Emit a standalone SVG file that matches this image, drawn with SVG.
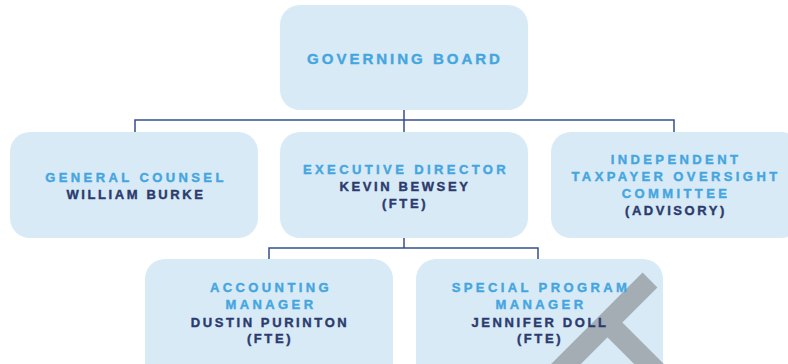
<svg xmlns="http://www.w3.org/2000/svg" width="788" height="364" viewBox="0 0 788 364">
<style>
.box{fill:#d9eaf7;}
.t{font-family:"Liberation Sans",Arial,sans-serif;font-weight:bold;font-size:13px;fill:#44a6df;stroke:#44a6df;stroke-width:0.4;letter-spacing:3.4px;text-anchor:middle;}
.n{font-family:"Liberation Sans",Arial,sans-serif;font-weight:bold;font-size:13px;fill:#2b3b6e;stroke:#2b3b6e;stroke-width:0.4;letter-spacing:2.6px;text-anchor:middle;}
.c{fill:none;stroke:#34508d;stroke-width:1.5;}
.x{stroke:#a4adb3;stroke-width:21;stroke-linecap:butt;}
</style>
<rect width="788" height="364" fill="#ffffff"/>
<g id="connectors">
<path class="c" d="M404 110 V132 M135 132 V120 H674 V132"/>
<path class="c" d="M404 238 V248 M269 259 V248 H538 V259"/>
</g>
<g id="governing-board">
<rect class="box" x="280" y="5" width="248" height="105" rx="20"/>
<text class="t" x="405" y="64" style="font-size:15px;letter-spacing:3px">GOVERNING BOARD</text>
</g>
<g id="general-counsel">
<rect class="box" x="10" y="132" width="248" height="106" rx="20"/>
<text class="t" x="136" y="182">GENERAL COUNSEL</text>
<text class="n" x="136" y="199">WILLIAM BURKE</text>
</g>
<g id="executive-director">
<rect class="box" x="280" y="132" width="248" height="106" rx="20"/>
<text class="t" x="406" y="174">EXECUTIVE DIRECTOR</text>
<text class="n" x="405" y="191">KEVIN BEWSEY</text>
<text class="n" x="405" y="208">(FTE)</text>
</g>
<g id="itoc">
<rect class="box" x="551" y="132" width="250" height="106" rx="20"/>
<text class="t" x="676" y="164">INDEPENDENT</text>
<text class="t" x="676" y="181">TAXPAYER OVERSIGHT</text>
<text class="t" x="676" y="198">COMMITTEE</text>
<text class="n" x="676" y="215">(ADVISORY)</text>
</g>
<g id="accounting-manager">
<rect class="box" x="145" y="259" width="248" height="125" rx="20"/>
<text class="t" x="271" y="292">ACCOUNTING</text>
<text class="t" x="271" y="309">MANAGER</text>
<text class="n" x="270" y="327">DUSTIN PURINTON</text>
<text class="n" x="270" y="343">(FTE)</text>
</g>
<g id="special-program-manager">
<rect class="box" x="416" y="259" width="247" height="125" rx="20"/>
<g id="watermark">
<line class="x" x1="650" y1="280" x2="555" y2="375"/>
<line class="x" x1="605" y1="320" x2="660" y2="375"/>
</g>
<text class="t" x="541" y="292">SPECIAL PROGRAM</text>
<text class="t" x="541" y="309">MANAGER</text>
<text class="n" x="540" y="327">JENNIFER DOLL</text>
<text class="n" x="540" y="343">(FTE)</text>
</g>
</svg>
